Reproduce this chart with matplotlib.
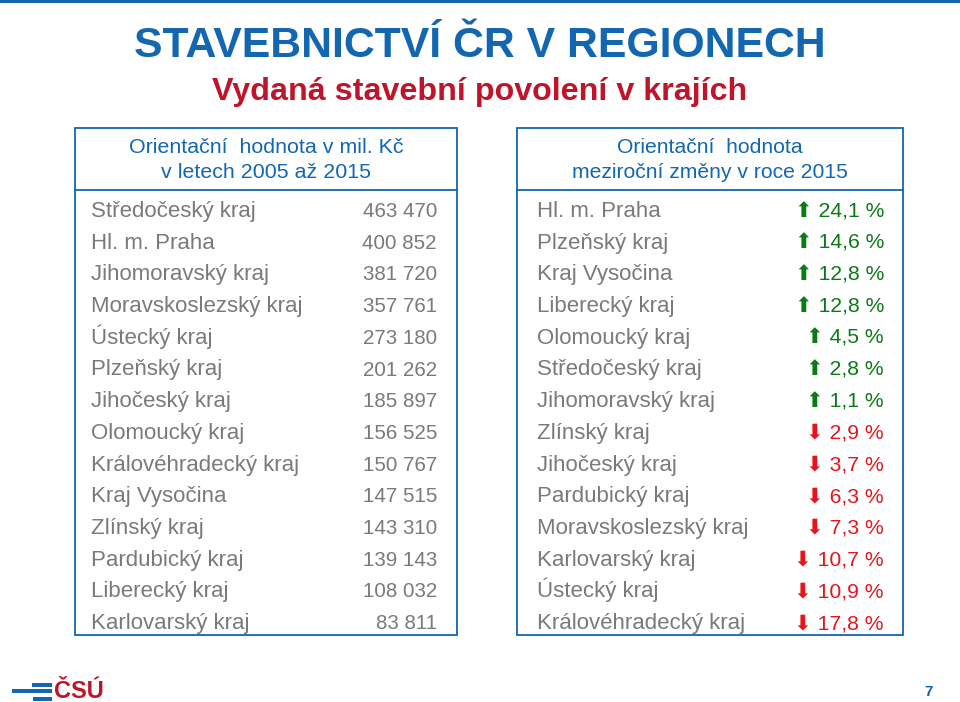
import matplotlib.pyplot as plt
from matplotlib.patches import Rectangle

# data
kraje_hodnota = ["Středočeský kraj", "Hl. m. Praha", "Jihomoravský kraj",
                 "Moravskoslezský kraj", "Ústecký kraj", "Plzeňský kraj",
                 "Jihočeský kraj", "Olomoucký kraj", "Královéhradecký kraj",
                 "Kraj Vysočina", "Zlínský kraj", "Pardubický kraj",
                 "Liberecký kraj", "Karlovarský kraj"]
hodnota = [463470, 400852, 381720, 357761, 273180, 201262, 185897,
           156525, 150767, 147515, 143310, 139143, 108032, 83811]

kraje_zmena = ["Hl. m. Praha", "Plzeňský kraj", "Kraj Vysočina",
               "Liberecký kraj", "Olomoucký kraj", "Středočeský kraj",
               "Jihomoravský kraj", "Zlínský kraj", "Jihočeský kraj",
               "Pardubický kraj", "Moravskoslezský kraj", "Karlovarský kraj",
               "Ústecký kraj", "Královéhradecký kraj"]
zmena = [24.1, 14.6, 12.8, 12.8, 4.5, 2.8, 1.1,
         -2.9, -3.7, -6.3, -7.3, -10.7, -10.9, -17.8]

BLUE = "#1366b0"
RED_T = "#c0142a"
GREY = "#7a7a7a"
GREEN = "#0a7a14"
RED = "#e8141c"
FONT = ["Liberation Sans", "DejaVu Sans"]

plt.rcParams["font.family"] = FONT

fig = plt.figure(figsize=(9.6, 7.02), dpi=100)
ax = fig.add_axes([0, 0, 1, 1])
ax.set_xlim(0, 960)
ax.set_ylim(702, 0)
ax.axis("off")

# top strip
ax.add_patch(Rectangle((0, 0), 960, 3, color=BLUE, lw=0))

ax.text(480, 57, "STAVEBNICTVÍ ČR V REGIONECH", color=BLUE, fontsize=30.8,
        fontweight="bold", ha="center", va="baseline")
ax.text(480, 100, "Vydaná stavební povolení v krajích", color=RED_T,
        fontsize=23.2, fontweight="bold", ha="center", va="baseline")


def box(x0, x1, header, size):
    ax.add_patch(Rectangle((x0, 128), x1 - x0, 635 - 128, fill=False,
                           ec=BLUE, lw=1.3))
    ax.plot([x0, x1], [190, 190], color=BLUE, lw=1.3)
    for i, line in enumerate(header):
        ax.text((x0 + x1) / 2, 153 + i * 25, line, color=BLUE, fontsize=size,
                ha="center", va="baseline")


box(75, 457, ["Orientační  hodnota v mil. Kč", "v letech 2005 až 2015"], 15.4)
box(517, 903, ["Orientační  hodnota", "meziroční změny v roce 2015"], 15.2)

row_y = [217 + i * 31.7 for i in range(len(kraje_hodnota))]

for y, name, val in zip(row_y, kraje_hodnota, hodnota):
    ax.text(91, y, name, color=GREY, fontsize=16, ha="left", va="baseline")
    s = f"{val:,}".replace(",", " ")
    ax.text(437, y, s, color=GREY, fontsize=14.8, ha="right", va="baseline")

for y, name, val in zip(row_y, kraje_zmena, zmena):
    ax.text(537, y, name, color=GREY, fontsize=16, ha="left", va="baseline")
    arrow = "⬆" if val > 0 else "⬇"
    col = GREEN if val > 0 else RED
    s = f"{arrow} {abs(val):.1f} %".replace(".", ",")
    ax.text(884, y, s, color=col, fontsize=15.2, ha="right", va="baseline")

# logo
ax.add_patch(Rectangle((32, 683), 20, 3.5, color=BLUE, lw=0))
ax.add_patch(Rectangle((12, 689), 40, 4, color=BLUE, lw=0))
ax.add_patch(Rectangle((33, 697), 19, 4, color=BLUE, lw=0))
ax.text(54, 698, "ČSÚ", color=RED_T, fontsize=17, fontweight="bold",
        ha="left", va="baseline")
ax.text(929, 696, "7", color=BLUE, fontsize=11, fontweight="bold",
        ha="center", va="baseline")

fig.savefig("out.png", dpi=100)
